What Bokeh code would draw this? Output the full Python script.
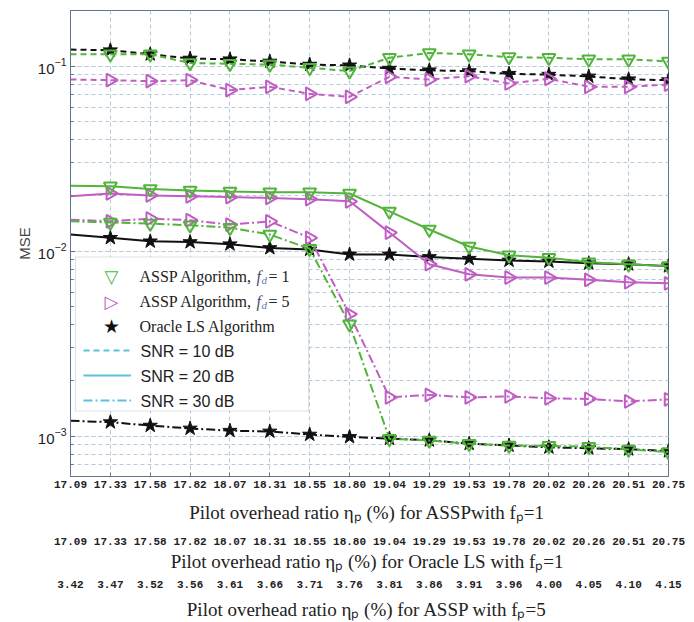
import numpy as np
from bokeh.plotting import figure
from bokeh.models import (FixedTicker, LinearAxis, LogTicker, Legend, LegendItem,
                          Label, Range1d, BoxAnnotation)
from bokeh.core.properties import value
from bokeh.embed import file_html
from bokeh.resources import INLINE

# ---------------- data ----------------
idx = list(range(16))
eta_assp_fp1 = ["17.09", "17.33", "17.58", "17.82", "18.07", "18.31", "18.55", "18.80",
                "19.04", "19.29", "19.53", "19.78", "20.02", "20.26", "20.51", "20.75"]
eta_oracle_fp1 = ["17.09", "17.33", "17.58", "17.82", "18.07", "18.31", "18.55", "18.80",
                  "19.04", "19.29", "19.53", "19.78", "20.02", "20.26", "20.51", "20.75"]
eta_assp_fp5 = ["3.42", "3.47", "3.52", "3.56", "3.61", "3.66", "3.71", "3.76",
                "3.81", "3.86", "3.91", "3.96", "4.00", "4.05", "4.10", "4.15"]

assp_fd1_snr10 = [0.116, 0.116, 0.116, 0.104, 0.103, 0.102, 0.098, 0.094,
                  0.111, 0.118, 0.116, 0.112, 0.111, 0.109, 0.109, 0.106]
assp_fd5_snr10 = [0.0847, 0.084, 0.083, 0.084, 0.0742, 0.0774, 0.0709, 0.0683,
                  0.0876, 0.0847, 0.0883, 0.0806, 0.0855, 0.0774, 0.0774, 0.0796]
oracle_snr10 = [0.123, 0.122, 0.116, 0.110, 0.109, 0.106, 0.102, 0.101,
                0.097, 0.095, 0.094, 0.091, 0.090, 0.088, 0.085, 0.084]

assp_fd1_snr20 = [0.0226, 0.0224, 0.0217, 0.0213, 0.0210, 0.0208, 0.0208, 0.0205,
                  0.0164, 0.0131, 0.0106, 0.0095, 0.0092, 0.0087, 0.0085, 0.0083]
assp_fd5_snr20 = [0.0198, 0.0205, 0.0200, 0.0198, 0.0196, 0.0194, 0.0191, 0.0186,
                  0.0126, 0.0085, 0.0075, 0.0072, 0.0072, 0.0070, 0.0068, 0.0067]
oracle_snr20 = [0.0123, 0.0118, 0.0113, 0.0112, 0.0109, 0.0104, 0.0102, 0.0096,
                0.0096, 0.0093, 0.0091, 0.0089, 0.0088, 0.0086, 0.0085, 0.0083]

assp_fd1_snr30 = [0.0145, 0.0143, 0.0141, 0.0138, 0.0134, 0.0123, 0.0103, 0.00403,
                  0.000967, 0.000947, 0.000909, 0.00089, 0.000886, 0.000876, 0.000847, 0.00082]
assp_fd5_snr30 = [0.0148, 0.0145, 0.0150, 0.0147, 0.0139, 0.0145, 0.0118, 0.00456,
                  0.00162, 0.00167, 0.00162, 0.00164, 0.00160, 0.00159, 0.00154, 0.00158]
oracle_snr30 = [0.00121, 0.00119, 0.00114, 0.00110, 0.00107, 0.00106, 0.00102, 0.00099,
                0.00097, 0.00095, 0.00091, 0.00089, 0.00087, 0.00086, 0.00085, 0.00083]

title_fp1 = "Pilot overhead ratio \u03b7\u209a (%) for ASSPwith  f\u209a=1"
title_oracle = "Pilot overhead ratio \u03b7\u209a (%) for Oracle LS with  f\u209a=1"
title_fp5 = "Pilot overhead ratio \u03b7\u209a (%) for ASSP with  f\u209a=5"

# ---------------- style ----------------
GREEN = "#52b43a"
MAGENTA = "#c05ec4"
BLACK = "#111111"
CYAN = "#5bc2e0"
FRAME = "#5f7590"
GRID = "#b6cadc"
SERIF = "Liberation Serif"
SANS = "Liberation Sans"
MONO = "Liberation Mono"

p = figure(width=694, height=622, y_axis_type="log",
           x_range=Range1d(0, 15), y_range=Range1d(6.05e-4, 0.2),
           output_backend="svg", toolbar_location=None,
           min_border_left=70, min_border_right=26, min_border_top=10,
           min_border_bottom=0)
p.outline_line_color = FRAME
p.outline_line_width = 1
p.background_fill_color = "white"

# grid
p.xgrid.grid_line_color = GRID
p.xgrid.grid_line_dash = "4 3"
p.ygrid.grid_line_color = GRID
p.ygrid.grid_line_dash = "4 3"
p.ygrid.minor_grid_line_color = GRID
p.ygrid.minor_grid_line_dash = "4 3"

# y axis
p.yaxis.ticker = LogTicker(num_minor_ticks=10, desired_num_ticks=3)
p.yaxis.axis_label = "MSE"
p.yaxis.axis_label_text_font = SANS
p.yaxis.axis_label_text_font_size = "15px"
p.yaxis.axis_label_text_font_style = "normal"
p.yaxis.axis_label_standoff = 2
p.yaxis.major_label_text_font = SANS
p.yaxis.major_label_text_font_size = "15px"
p.yaxis.major_label_text_color = "#222222"
p.yaxis.major_label_standoff = 4
p.yaxis.axis_line_color = FRAME
p.yaxis.major_tick_in = 5
p.yaxis.major_tick_out = 0
p.yaxis.minor_tick_in = 3
p.yaxis.minor_tick_out = 0
p.yaxis.major_tick_line_color = FRAME
p.yaxis.minor_tick_line_color = FRAME


def style_x_axis(ax, labels, title, tick_standoff, label_standoff, main=False):
    ax.ticker = FixedTicker(ticks=idx)
    ax.major_label_overrides = {i: s for i, s in zip(idx, labels)}
    ax.major_label_text_font = MONO
    ax.major_label_text_font_size = "11px"
    ax.major_label_text_font_style = "bold"
    ax.major_label_text_color = "#222222"
    ax.major_label_standoff = tick_standoff
    ax.axis_label = title
    ax.axis_label_text_font = SERIF
    ax.axis_label_text_font_size = "19px"
    ax.axis_label_text_font_style = "normal"
    ax.axis_label_text_color = "#222222"
    ax.axis_label_standoff = label_standoff
    ax.minor_tick_line_color = None
    ax.major_tick_out = 0
    if main:
        ax.axis_line_color = FRAME
        ax.major_tick_line_color = FRAME
        ax.major_tick_in = 4
    else:
        ax.axis_line_color = None
        ax.major_tick_line_color = None
        ax.major_tick_in = 0


style_x_axis(p.xaxis[0], eta_assp_fp1, title_fp1, 4, 11, main=True)
ax2 = LinearAxis()
style_x_axis(ax2, eta_oracle_fp1, title_oracle, 12, 3)
p.add_layout(ax2, "below")
ax3 = LinearAxis()
style_x_axis(ax3, eta_assp_fp5, title_fp5, 6, 8)
p.add_layout(ax3, "below")

# ---------------- series ----------------
DASH = {10: "6 4", 20: "solid", 30: "9 3 2 3"}
series = [
    (oracle_snr10, BLACK, "star", 10), (assp_fd5_snr10, MAGENTA, "tri_r", 10),
    (assp_fd1_snr10, GREEN, "inverted_triangle", 10),
    (oracle_snr20, BLACK, "star", 20), (assp_fd5_snr20, MAGENTA, "tri_r", 20),
    (assp_fd1_snr20, GREEN, "inverted_triangle", 20),
    (oracle_snr30, BLACK, "star", 30), (assp_fd5_snr30, MAGENTA, "tri_r", 30),
    (assp_fd1_snr30, GREEN, "inverted_triangle", 30),
]


def add_marker(xs, ys, kind, color):
    if kind == "star":
        return p.scatter(xs, ys, marker="star", size=15, fill_color=color,
                         line_color=color, line_width=1)
    if kind == "tri_r":
        return p.scatter(xs, ys, marker="triangle", angle=-np.pi / 2, size=13,
                         fill_alpha=0, line_color=color, line_width=2)
    return p.scatter(xs, ys, marker="inverted_triangle", size=13, fill_alpha=0,
                     line_color=color, line_width=2)


for ys, color, kind, snr in series:
    p.line(idx, ys, line_color=color, line_width=2, line_dash=DASH[snr])
    add_marker(idx[1:], ys[1:], kind, color)

FB = 477.5  # frame bottom in canvas pixels (screen-unit offsets are frame relative)
FL = 70

# ---------------- legend ----------------
# white legend box (underlay: hides the grid)
p.add_layout(BoxAnnotation(left=75 - FL, right=308 - FL, top=FB - 258, bottom=FB - 412,
                           left_units="screen", right_units="screen",
                           top_units="screen", bottom_units="screen",
                           fill_color="white", fill_alpha=1,
                           line_color="#8a9bb0", line_width=1, level="underlay"))

# legend-only renderers: NaN data so nothing is drawn in the plot area
NAN2 = [float("nan"), float("nan")]
blank = [p.line(idx[:2], NAN2, line_alpha=0) for _ in range(3)]
leg_10 = p.line(idx[:2], NAN2, line_color=CYAN, line_width=2, line_dash=DASH[10])
leg_20 = p.line(idx[:2], NAN2, line_color=CYAN, line_width=2, line_dash=DASH[20])
leg_30 = p.line(idx[:2], NAN2, line_color=CYAN, line_width=2, line_dash=DASH[30])
items = [LegendItem(label=value(" "), renderers=[r])
         for r in blank + [leg_10, leg_20, leg_30]]
legend = Legend(items=items, location=(13, 66), padding=0, spacing=5,
                glyph_height=20, glyph_width=48, label_standoff=0,
                label_width=0, label_height=20, label_text_font_size="10px",
                border_line_alpha=0, background_fill_alpha=0, margin=0)
p.add_layout(legend)


def lab(x, y, text, font=SERIF, size="16px", style="normal", color="#222222",
        align="left"):
    p.add_layout(Label(x=x - FL, y=FB - y, x_units="screen", y_units="screen",
                       text=text, text_font=font, text_font_size=size,
                       text_font_style=style, text_color=color,
                       text_align=align, text_baseline="middle"))


LEG_Y = [277, 302, 327, 352, 377, 402]
for yy, num in ((LEG_Y[0], "1"), (LEG_Y[1], "5")):
    lab(139, yy, "ASSP Algorithm, ")
    lab(256, yy, "f", style="italic", color="#3a4f70")
    lab(261, yy + 4, "d", size="11px", style="italic", color="#5a7ca8")
    lab(268, yy, "= " + num)
lab(139, LEG_Y[2], "Oracle LS Algorithm")
lab(140, LEG_Y[3], "SNR = 10 dB", font=SANS)
lab(140, LEG_Y[4], "SNR = 20 dB", font=SANS)
lab(140, LEG_Y[5], "SNR = 30 dB", font=SANS)
lab(111, LEG_Y[0], "\u25bd", font="DejaVu Sans", size="18px", style="bold",
    color=GREEN, align="center")
lab(111, LEG_Y[1], "\u25b7", font="DejaVu Sans", size="18px", style="bold",
    color=MAGENTA, align="center")
lab(111, LEG_Y[2], "\u2605", font="DejaVu Sans", size="19px", color=BLACK,
    align="center")

open("out.html", "w").write(file_html(p, INLINE))
